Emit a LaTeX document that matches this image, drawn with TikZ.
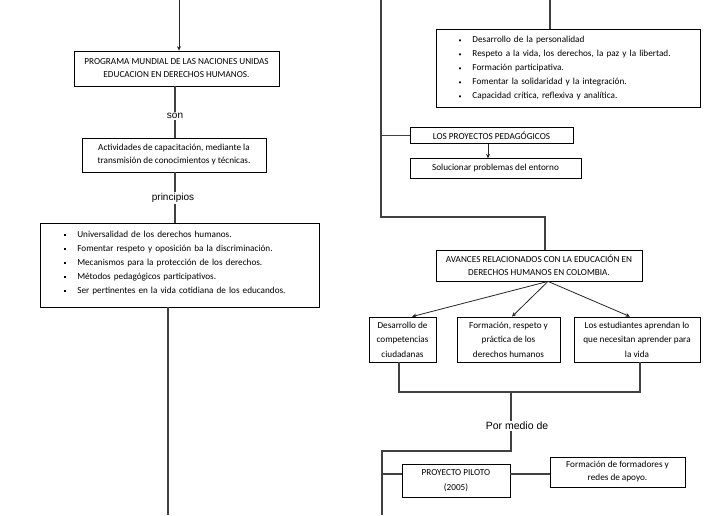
\documentclass[tikz,border=0pt]{standalone}
\usepackage{fontspec}
\setmainfont{Carlito}
\newfontfamily\labfont{Liberation Sans}
\usetikzlibrary{arrows.meta,calc}
\newcommand\sqbul{\rule[1.3pt]{2.3pt}{2.3pt}}
\newcommand\rdbul{{\fontsize{6}{6}\selectfont\textbullet}}
\begin{document}
\begin{tikzpicture}[x=1pt,y=-1pt,
 box/.style={draw=black, line width=0.8pt, inner sep=0pt, align=center, font=\fontsize{9.2}{13}\selectfont},
 listbox/.style={box, align=left, font=\fontsize{9.2}{14}\selectfont},
 lbl/.style={font=\labfont\fontsize{10}{12}\selectfont, inner sep=1pt},
 con/.style={draw=black!75, line width=1.1pt},
 arr/.style={draw=black!85, line width=0.8pt, -{Stealth[length=4.5pt,width=4pt]}},
]
\useasboundingbox[fill=white] (0,0) rectangle (728,515);

% ---------- left column ----------
\node[box, minimum width=205pt, minimum height=35pt] (prog) at (176.5,68.5)
  {PROGRAMA MUNDIAL DE LAS NACIONES UNIDAS\\EDUCACION EN DERECHOS HUMANOS.};
\node[box, minimum width=184pt, minimum height=34pt] (act) at (174,155)
  {Actividades de capacitación, mediante la\\transmisión de conocimientos y técnicas.};
\node[listbox, minimum width=279pt, minimum height=84pt, text width=279pt] (prin) at (179.5,265)
  {\hspace*{23.5pt}\sqbul\hspace{11.5pt}Universalidad de los derechos humanos.\\
   \hspace*{23.5pt}\sqbul\hspace{11.5pt}Fomentar respeto y oposición ba la discriminación.\\
   \hspace*{23.5pt}\sqbul\hspace{11.5pt}Mecanismos para la protección de los derechos.\\
   \hspace*{23.5pt}\sqbul\hspace{11.5pt}Métodos pedagógicos participativos.\\
   \hspace*{23.5pt}\sqbul\hspace{11.5pt}Ser pertinentes en la vida cotidiana de los educandos.\\[-8pt]\mbox{}};

\node[lbl] (son) at (175,116) {son};
\node[lbl] (princ) at (173,198) {principios};

\coordinate (t1) at (179,0);
\draw[arr] (t1) -- (t1 |- prog.north);
\draw[con] (son) -- (son |- prog.south);
\draw[con] (son) -- (son |- act.north);
\draw[con] (son |- princ.north) -- (son |- act.south);
\draw[con] (son |- princ.south) -- (son |- prin.north);
\coordinate (b1) at (168,515);
\draw[con] (b1 |- prin.south) -- (b1);

% ---------- right column ----------
\node[listbox, minimum width=264pt, minimum height=78pt, text width=264pt] (vals) at (568,68)
  {\hspace*{22.5pt}\rdbul\hspace{11pt}Desarrollo de la personalidad\\
   \hspace*{22.5pt}\rdbul\hspace{11pt}Respeto a la vida, los derechos, la paz y la libertad.\\
   \hspace*{22.5pt}\rdbul\hspace{11pt}Formación participativa.\\
   \hspace*{22.5pt}\rdbul\hspace{11pt}Fomentar la solidaridad y la integración.\\
   \hspace*{22.5pt}\rdbul\hspace{11pt}Capacidad crítica, reflexiva y analítica.};
\node[box, minimum width=163pt, minimum height=16.5pt] (proy) at (491.5,135.2)
  {LOS PROYECTOS PEDAGÓGICOS};
\node[box, minimum width=171pt, minimum height=19.5pt] (sol) at (495.5,168.5)
  {Solucionar problemas del entorno};
\node[box, minimum width=206pt, minimum height=31pt] (avan) at (539,265.5)
  {AVANCES RELACIONADOS CON LA EDUCACIÓN EN\\DERECHOS HUMANOS EN COLOMBIA.};
\node[box, minimum width=67pt, minimum height=45pt, font=\fontsize{9.2}{14.5}\selectfont] (dc) at (402.5,339.5)
  {Desarrollo de\\competencias\\ciudadanas};
\node[box, minimum width=103pt, minimum height=45pt, font=\fontsize{9.2}{14.5}\selectfont] (fr) at (508.5,339.5)
  {Formación, respeto y\\práctica de los\\derechos humanos};
\node[box, minimum width=126pt, minimum height=45pt, font=\fontsize{9.2}{14.5}\selectfont] (lv) at (637,339.5)
  {Los estudiantes aprendan lo\\que necesitan aprender para\\la vida};
\node[lbl, font=\labfont\fontsize{10.5}{12}\selectfont] (pm) at (517,426) {Por medio de};
\node[box, minimum width=108pt, minimum height=33pt, font=\fontsize{9.2}{15}\selectfont] (pp) at (456,480.5)
  {PROYECTO PILOTO\\(2005)};
\node[box, minimum width=135pt, minimum height=30pt] (form) at (617.5,472)
  {Formación de formadores y\\redes de apoyo.};

\coordinate (t2) at (381,0);
\coordinate (k1) at (381,217);
\coordinate (k2) at (545,217);
\draw[con] (t2) -- (k1) -- (k2) -- (k2 |- avan.north);
\draw[con] (proy.west -| t2) -- (proy.west);
\coordinate (t3) at (550,0);
\draw[con] (t3) -- (t3 |- vals.north);
\coordinate (a1) at (488,0);
\draw[arr] (a1 |- proy.south) -- (a1 |- sol.north);

\coordinate (s) at ($(avan.south)+(9,0)$);
\draw[arr] (s) -- ($(dc.north)+(9.5,0)$);
\draw[arr] (s) -- ($(fr.north)+(3.5,0)$);
\draw[arr] (s) -- ($(lv.north)+(-7,0)$);

\coordinate (jl) at (399,392);
\coordinate (jr) at (640,392);
\coordinate (j) at (511,392);
\draw[con] (jl |- dc.south) -- (jl) -- (jr) -- (jr |- lv.south);
\draw[con] (j) -- (j |- pm.north);
\coordinate (k3) at (511,451);
\coordinate (k4) at (382,451);
\coordinate (b2) at (382,515);
\draw[con] (k3 |- pm.south) -- (k3) -- (k4) -- (b2);
\coordinate (br) at (382,474);
\draw[con] (br) -- (br -| pp.west);
\draw[con] (br -| pp.east) -- (br -| form.west);
\end{tikzpicture}
\end{document}
